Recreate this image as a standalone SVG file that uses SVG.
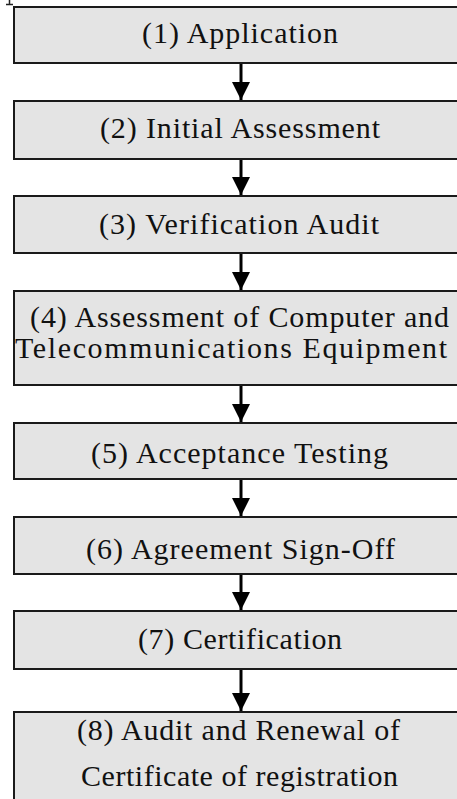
<svg xmlns="http://www.w3.org/2000/svg" width="457" height="799" viewBox="0 0 457 799">
  <style>
    .box { fill: #e4e4e4; stroke: #1a1a1a; stroke-width: 2; }
    .lbl { font-family: "Liberation Serif", "Times New Roman", serif; font-size: 30px; fill: #111; }
    .conn { stroke: #000; stroke-width: 3; fill: none; }
  </style>
  <defs>
    <marker id="ah" markerUnits="userSpaceOnUse" markerWidth="18" markerHeight="18" viewBox="0 0 18 18" refX="18" refY="9" orient="auto">
      <path d="M0,0 L18,9 L0,18 z" fill="#000"/>
    </marker>
  </defs>
  <rect width="457" height="799" fill="#fff"/>
  <path d="M9.5,0 V4 M6,4.5 H13" stroke="#222" stroke-width="1.5" fill="none"/>

  <g id="n1">
    <rect class="box" x="14" y="7" width="460" height="56"/>
    <text class="lbl" x="142" y="43" textLength="196" lengthAdjust="spacing">(1) Application</text>
  </g>
  <g id="n2">
    <rect class="box" x="14" y="101" width="460" height="58"/>
    <text class="lbl" x="100" y="138" textLength="280" lengthAdjust="spacing">(2) Initial Assessment</text>
  </g>
  <g id="n3">
    <rect class="box" x="14" y="196" width="460" height="57"/>
    <text class="lbl" x="99" y="234" textLength="280" lengthAdjust="spacing">(3) Verification Audit</text>
  </g>
  <g id="n4">
    <rect class="box" x="14" y="291" width="460" height="94"/>
    <text class="lbl" x="30" y="327" textLength="419" lengthAdjust="spacing">(4) Assessment of Computer and</text>
    <text class="lbl" x="15" y="358" textLength="432" lengthAdjust="spacing">Telecommunications Equipment</text>
  </g>
  <g id="n5">
    <rect class="box" x="14" y="423" width="460" height="56"/>
    <text class="lbl" x="91" y="463" textLength="297" lengthAdjust="spacing">(5) Acceptance Testing</text>
  </g>
  <g id="n6">
    <rect class="box" x="14" y="517" width="460" height="57"/>
    <text class="lbl" x="86" y="559" textLength="309" lengthAdjust="spacing">(6) Agreement Sign-Off</text>
  </g>
  <g id="n7">
    <rect class="box" x="14" y="611" width="460" height="58"/>
    <text class="lbl" x="138" y="649" textLength="204" lengthAdjust="spacing">(7) Certification</text>
  </g>
  <g id="n8">
    <rect class="box" x="14" y="712" width="460" height="100"/>
    <text class="lbl" x="77" y="740" textLength="323" lengthAdjust="spacing">(8) Audit and Renewal of</text>
    <text class="lbl" x="81" y="786" textLength="317" lengthAdjust="spacing">Certificate of registration</text>
  </g>

  <g id="connectors">
    <path class="conn" d="M241,64 V100" marker-end="url(#ah)"/>
    <path class="conn" d="M241,160 V195" marker-end="url(#ah)"/>
    <path class="conn" d="M241,254 V290" marker-end="url(#ah)"/>
    <path class="conn" d="M241,386 V422" marker-end="url(#ah)"/>
    <path class="conn" d="M241,480 V516" marker-end="url(#ah)"/>
    <path class="conn" d="M241,575 V610" marker-end="url(#ah)"/>
    <path class="conn" d="M241,670 V711" marker-end="url(#ah)"/>
  </g>
</svg>
